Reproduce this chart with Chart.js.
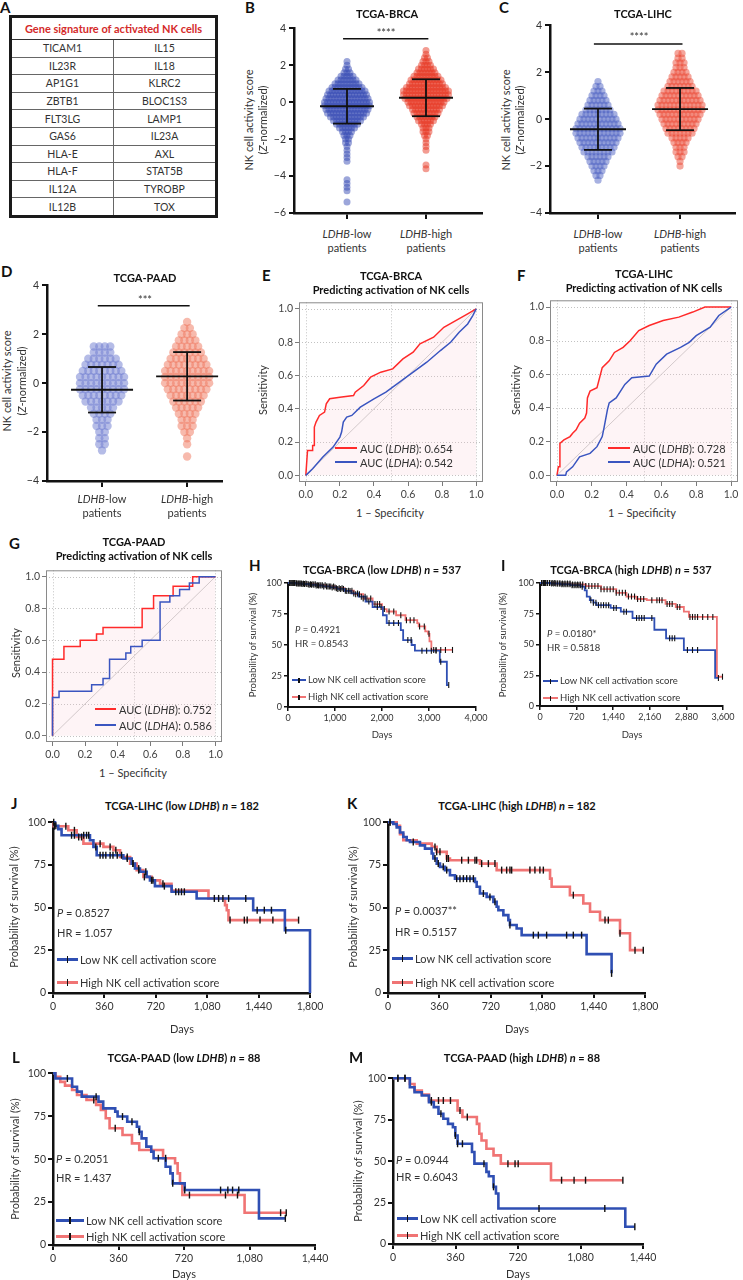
<!DOCTYPE html>
<html>
<head>
<meta charset="utf-8">
<title>NK cell activation and LDHB</title>
<script src="https://cdn.jsdelivr.net/npm/chart.js@4.4.1/dist/chart.umd.min.js"></script>
<style>
  html, body { margin: 0; padding: 0; background: #fff; }
  #fig { position: relative; width: 743px; height: 1280px; overflow: hidden; font-family: Lato, "Noto Sans", sans-serif; color: #333; }
  #fig canvas { position: absolute; }
  .t { position: absolute; white-space: nowrap; line-height: 1; }
  .lg { position: absolute; height: 0; }
  .lg span { position: absolute; width: 1.5px; background: #111; }
  #genes { position: absolute; left: 9px; top: 15px; width: 209px; border-collapse: collapse; border: 3px solid #1a1a1a; font-size: 10.5px; color: #333; }
  #genes th { color: #d42a2a; font-weight: bold; font-size: 11px; height: 21px; padding: 0; border-bottom: 1.5px solid #333; }
  #genes td { border: 1px solid #666; text-align: center; padding: 0; height: 16.6px; width: 50%; }
</style>
</head>
<body>
<div id="fig"></div>
<script>
const FONT = 'Lato, "Noto Sans", sans-serif';
Chart.defaults.font.family = FONT;

// ---------- A: gene signature ----------
const genesLeft = ['TICAM1', 'IL23R', 'AP1G1', 'ZBTB1', 'FLT3LG', 'GAS6', 'HLA-E', 'HLA-F', 'IL12A', 'IL12B'];
const genesRight = ['IL15', 'IL18', 'KLRC2', 'BLOC1S3', 'LAMP1', 'IL23A', 'AXL', 'STAT5B', 'TYROBP', 'TOX'];

// ---------- B-D: NK cell activity score (bin centre -> number of patients) ----------
const bBins = [2.8, 2.6, 2.4, 2.2, 2.0, 1.8, 1.6, 1.4, 1.2, 1.0, 0.8, 0.6, 0.4, 0.2, 0, -0.2, -0.4, -0.6, -0.8, -1.0, -1.2, -1.4, -1.6, -1.8, -2.0, -2.2, -2.4, -2.6, -2.8, -3.0, -3.2, -3.4, -3.6, -3.8, -4.0, -4.2, -4.4, -4.6, -4.8, -5.0, -5.2, -5.4];
const bLow = [0, 0, 0, 1, 1, 2, 3, 5, 7, 9, 11, 13, 14, 15, 16, 16, 15, 14, 12, 10, 8, 6, 4, 3, 2, 2, 1, 1, 1, 1, 1, 0, 0, 0, 0, 1, 1, 1, 1, 0, 0, 1];
const bHigh = [1, 1, 2, 3, 4, 6, 7, 9, 11, 12, 14, 16, 16, 15, 13, 12, 10, 9, 7, 6, 4, 3, 3, 2, 1, 1, 1, 1, 0, 0, 0, 1, 1, 0, 0, 0, 0, 0, 0, 0, 0, 0];
const bMeans = [-0.22, 0.24], bSDs = [0.94, 1.0];

const cBins = [2.8, 2.6, 2.4, 2.2, 2.0, 1.8, 1.6, 1.4, 1.2, 1.0, 0.8, 0.6, 0.4, 0.2, 0, -0.2, -0.4, -0.6, -0.8, -1.0, -1.2, -1.4, -1.6, -1.8, -2.0, -2.2, -2.4, -2.6];
const cLow = [0, 0, 0, 0, 0, 0, 1, 2, 3, 4, 5, 6, 7, 9, 10, 11, 12, 12, 11, 10, 9, 8, 6, 5, 4, 3, 2, 1];
const cHigh = [2, 2, 3, 3, 4, 5, 6, 7, 9, 10, 11, 12, 12, 11, 10, 9, 8, 7, 5, 4, 3, 3, 2, 1, 1, 0, 0, 0];
const cMeans = [-0.43, 0.43], cSDs = [0.88, 0.9];

const dBins = [2.5, 2.25, 2.0, 1.75, 1.5, 1.25, 1.0, 0.75, 0.5, 0.25, 0, -0.25, -0.5, -0.75, -1.0, -1.25, -1.5, -1.75, -2.0, -2.25, -2.5, -2.75, -3.0];
const dLow = [0, 0, 0, 0, 4, 4, 6, 7, 8, 9, 9, 9, 8, 7, 5, 4, 3, 3, 2, 2, 2, 1, 0];
const dHigh = [1, 2, 3, 4, 5, 6, 7, 8, 9, 9, 9, 8, 7, 6, 5, 4, 3, 3, 2, 1, 1, 0, 1];
const dMeans = [-0.27, 0.28], dSDs = [0.93, 0.99];

const scoreTicks6 = [-6, -4, -2, 0, 2, 4];
const scoreTicks4 = [-4, -2, 0, 2, 4];

// ---------- E-G: ROC curves (1 - specificity, sensitivity) ----------
const rocTicks = [0, 0.2, 0.4, 0.6, 0.8, 1.0];
const rocGridX = [0, 0.5, 1];
const diagX = [0, 1], diagY = [0, 1];

const eRedX = [0, 0.004, 0.01, 0.04, 0.04, 0.05, 0.05, 0.06, 0.08, 0.11, 0.12, 0.14, 0.20, 0.28, 0.29, 0.34, 0.38, 0.44, 0.51, 0.57, 0.63, 0.67, 0.75, 0.81, 0.88, 0.95, 1];
const eRedY = [0, 0.06, 0.15, 0.15, 0.18, 0.18, 0.29, 0.32, 0.36, 0.38, 0.43, 0.46, 0.47, 0.48, 0.50, 0.54, 0.59, 0.62, 0.64, 0.70, 0.74, 0.79, 0.83, 0.89, 0.93, 0.97, 1];
const eBlueX = [0, 0.04, 0.10, 0.16, 0.18, 0.20, 0.21, 0.22, 0.24, 0.27, 0.32, 0.40, 0.47, 0.55, 0.63, 0.71, 0.79, 0.85, 0.90, 0.95, 0.98, 1];
const eBlueY = [0, 0.04, 0.11, 0.17, 0.20, 0.23, 0.26, 0.32, 0.35, 0.36, 0.41, 0.46, 0.50, 0.56, 0.62, 0.68, 0.75, 0.80, 0.86, 0.91, 0.96, 1];

const fRedX = [0, 0.008, 0.017, 0.017, 0.04, 0.075, 0.09, 0.11, 0.13, 0.16, 0.17, 0.175, 0.19, 0.23, 0.26, 0.30, 0.33, 0.38, 0.42, 0.47, 0.53, 0.61, 0.70, 0.78, 0.85, 1];
const fRedY = [0, 0.05, 0.05, 0.19, 0.21, 0.23, 0.25, 0.27, 0.31, 0.34, 0.37, 0.46, 0.50, 0.52, 0.64, 0.68, 0.73, 0.76, 0.80, 0.86, 0.89, 0.92, 0.94, 0.97, 1.0, 1];
const fBlueX = [0, 0.05, 0.055, 0.09, 0.11, 0.13, 0.19, 0.23, 0.26, 0.27, 0.29, 0.30, 0.34, 0.39, 0.43, 0.53, 0.57, 0.63, 0.71, 0.76, 0.80, 0.88, 0.93, 1];
const fBlueY = [0, 0, 0.02, 0.05, 0.08, 0.11, 0.13, 0.17, 0.23, 0.28, 0.39, 0.43, 0.46, 0.54, 0.58, 0.59, 0.66, 0.72, 0.76, 0.79, 0.83, 0.88, 0.95, 1];

const gRedX = [0, 0, 0.07, 0.07, 0.17, 0.17, 0.27, 0.27, 0.31, 0.31, 0.55, 0.55, 0.62, 0.62, 0.74, 0.74, 0.86, 0.86, 1];
const gRedY = [0, 0.48, 0.48, 0.56, 0.56, 0.60, 0.60, 0.64, 0.64, 0.68, 0.68, 0.80, 0.80, 0.88, 0.88, 0.94, 0.94, 1.0, 1];
const gBlueX = [0, 0, 0.04, 0.04, 0.24, 0.24, 0.31, 0.31, 0.35, 0.35, 0.45, 0.45, 0.48, 0.48, 0.55, 0.55, 0.66, 0.66, 0.72, 0.72, 0.78, 0.78, 0.84, 0.84, 0.90, 0.90, 1];
const gBlueY = [0, 0.24, 0.24, 0.28, 0.28, 0.32, 0.32, 0.36, 0.36, 0.48, 0.48, 0.52, 0.52, 0.56, 0.56, 0.60, 0.60, 0.84, 0.84, 0.88, 0.88, 0.92, 0.92, 0.96, 0.96, 1.0, 1];

// ---------- H-M: Kaplan-Meier (days, survival %) and censor times ----------
const survTicks = [0, 25, 50, 75, 100];

const hLowT = [0, 150, 300, 450, 600, 750, 900, 1050, 1200, 1350, 1500, 1650, 1800, 2020, 2100, 2400, 2450, 2630, 2700, 3230, 3380, 3420];
const hLowS = [100, 99.6, 99.2, 98.6, 98, 97.2, 96.4, 95.2, 93.6, 91.6, 89, 85, 80.6, 74, 67.7, 62, 54, 50, 45.4, 36.5, 17.7, 17.7];
const hHighT = [0, 200, 400, 600, 800, 1000, 1200, 1400, 1600, 1800, 2000, 2100, 2300, 2500, 2750, 2780, 2920, 2980, 3010, 3050, 3500];
const hHighS = [100, 99.5, 99, 98.2, 97.2, 95.8, 93.8, 91, 87.5, 83, 79, 77, 74, 70, 67.7, 65, 61, 59, 53, 46, 46];
const hLowC = [30, 60, 100, 140, 180, 220, 260, 300, 350, 400, 450, 500, 550, 600, 650, 700, 760, 820, 880, 940, 1000, 1060, 1120, 1180, 1250, 1320, 1400, 1480, 1560, 1640, 1720, 1900, 1980, 2150, 2250, 2350, 2550, 2620, 2850, 2950, 3050, 3150, 3250, 3420];
const hHighC = [40, 80, 120, 170, 210, 250, 290, 330, 380, 430, 480, 530, 580, 630, 680, 730, 790, 850, 910, 970, 1030, 1090, 1150, 1220, 1290, 1360, 1440, 1520, 1600, 1680, 1760, 1850, 1900, 1950, 2050, 2150, 2250, 2400, 2520, 2600, 2680, 2800, 2900, 3000, 3100, 3150, 3250, 3350, 3500];
const hTicks = [0, 1000, 2000, 3000, 4000];

const iLowT = [0, 200, 400, 600, 800, 880, 920, 980, 1050, 1110, 1390, 1590, 1820, 2250, 2480, 2830, 3445, 3510];
const iLowS = [100, 99.6, 99, 98.2, 97, 94, 89, 86, 84, 82, 79.7, 76.7, 71.5, 62, 55, 45.5, 22.8, 22.8];
const iHighT = [0, 300, 600, 900, 1200, 1500, 1700, 1900, 2100, 2470, 2670, 2830, 2930, 3480, 3590];
const iHighS = [100, 99.5, 98.8, 97.5, 95, 92, 89, 87, 86, 83, 80.5, 76.7, 72.4, 23.8, 23.8];
const iLowC = [30, 70, 110, 150, 190, 230, 270, 310, 350, 390, 430, 470, 510, 550, 590, 630, 670, 710, 750, 790, 830, 1000, 1050, 1100, 1150, 1200, 1250, 1300, 1350, 1450, 1500, 1650, 1700, 1900, 1950, 2000, 2050, 2200, 2550, 2600, 2650, 2900, 3000, 3100, 3510];
const iHighC = [40, 90, 140, 190, 240, 290, 340, 390, 440, 490, 540, 590, 640, 690, 740, 790, 840, 900, 960, 1020, 1080, 1140, 1200, 1260, 1320, 1380, 1440, 1500, 1560, 1620, 1680, 1740, 1800, 1860, 1920, 1980, 2040, 2200, 2300, 2350, 2400, 2500, 2550, 2600, 2700, 2750, 2950, 3000, 3050, 3100, 3200, 3300, 3400, 3590];
const iTicks = [0, 720, 1440, 2160, 2880, 3600];

const jLowT = [0, 14, 37, 60, 259, 283, 306, 493, 551, 574, 609, 656, 679, 714, 831, 1006, 1402, 1624, 1800];
const jLowS = [100, 98, 96, 92.4, 89.5, 85.6, 80.7, 78.8, 75.8, 72.9, 71, 68, 66, 62.6, 59.3, 55.4, 48.5, 36.8, 0];
const jHighT = [0, 5, 107, 166, 213, 353, 423, 470, 540, 586, 633, 691, 750, 830, 1089, 1205, 1217, 1229, 1720];
const jHighS = [100, 97.7, 95.3, 91.4, 87.5, 85.6, 83.6, 79.7, 75.8, 72, 68, 66, 64, 60, 55.4, 51.5, 48.5, 42.7, 42.7];
const jLowC = [5, 20, 130, 150, 215, 235, 250, 300, 330, 350, 370, 400, 420, 450, 480, 520, 560, 600, 650, 690, 780, 860, 880, 900, 920, 1130, 1160, 1230, 1350, 1430, 1480, 1530, 1630];
const jHighC = [10, 90, 150, 180, 200, 330, 400, 440, 520, 560, 600, 640, 700, 770, 1190, 1240, 1340, 1360, 1450, 1540, 1720];

const kLowT = [0, 37, 61, 84, 107, 131, 154, 224, 259, 306, 317, 341, 364, 399, 434, 469, 609, 621, 644, 691, 738, 761, 773, 808, 843, 854, 901, 936, 1391, 1566];
const kLowS = [100, 99, 97, 94, 91.4, 89.5, 88.5, 86.5, 84.6, 81.7, 78.8, 75.8, 73.9, 72, 69, 67, 65, 62.2, 58.3, 56.3, 53.4, 50.5, 48.5, 45.6, 42.7, 39.8, 37.8, 33.9, 22.8, 11.5];
const kHighT = [0, 61, 84, 107, 201, 306, 341, 411, 434, 644, 761, 1135, 1146, 1274, 1368, 1415, 1485, 1625, 1695, 1788];
const kHighS = [100, 98, 93, 89.5, 87.5, 85.6, 82.7, 78.8, 77.8, 75.8, 72, 67, 62.2, 57.3, 52.4, 47.6, 42.7, 35, 25.1, 25.1];
const kLowC = [14, 177, 329, 352, 387, 411, 481, 504, 528, 551, 574, 598, 668, 714, 749, 854, 1018, 1053, 1111, 1251, 1298, 1356, 1566];
const kHighC = [14, 329, 341, 364, 411, 423, 516, 563, 609, 621, 656, 703, 749, 796, 831, 854, 866, 994, 1029, 1064, 1088, 1298, 1520, 1543, 1625, 1730, 1788];
const lihcTicks = [0, 360, 720, 1080, 1440, 1800];

const lLowT = [0, 13, 105, 132, 158, 250, 276, 342, 355, 408, 461, 474, 487, 513, 540, 553, 619, 645, 658, 724, 1132, 1277];
const lLowS = [100, 97, 92.2, 89.3, 86.4, 83.5, 79.6, 77.7, 74.8, 71.8, 68.9, 66, 62.1, 57.3, 54.4, 50.5, 45.6, 41.7, 35.9, 32, 15.5, 15.5];
const lHighT = [0, 13, 40, 66, 105, 132, 184, 237, 263, 290, 311, 382, 434, 474, 605, 671, 685, 698, 711, 1053, 1282];
const lHighS = [100, 98, 95, 92.8, 90.3, 87.4, 84.5, 81.6, 78.6, 73.8, 68, 64.1, 59.2, 55.3, 50.5, 47.6, 41.7, 35.9, 29.1, 18.8, 18.8];
const lLowC = [79, 237, 382, 434, 474, 579, 658, 724, 921, 961, 987, 1021, 1277];
const lHighC = [224, 342, 619, 750, 948, 1014, 1251, 1282];

const mLowT = [0, 97, 124, 166, 207, 235, 262, 290, 317, 345, 359, 372, 455, 469, 538, 552, 579, 593, 607, 1338, 1393];
const mLowS = [100, 94.6, 91.6, 89.6, 85.6, 82.6, 78.6, 75.6, 72.5, 70.5, 65.5, 60.5, 55.5, 48.5, 43.5, 40.9, 34.5, 30.5, 21.4, 10.4, 10.4];
const mHighT = [0, 97, 124, 166, 207, 372, 400, 483, 497, 510, 538, 579, 621, 910, 1324];
const mHighS = [100, 96.6, 92.6, 90.2, 86.6, 80.6, 76.6, 72.5, 66.5, 62.5, 57.5, 53.5, 48.5, 38.5, 38.5];
const mLowC = [28, 69, 221, 276, 359, 372, 400, 524, 579, 841, 1220, 1393];
const mHighC = [28, 69, 221, 262, 290, 331, 386, 428, 662, 703, 721, 971, 1043, 1109, 1324];
const paadTicks = [0, 360, 720, 1080, 1440];

// ---------- helpers ----------
const fig = document.getElementById('fig');
const KM_BLUE = '#2f4fb3', KM_RED = '#f07474';
const ROC_RED = '#ff2a2a', ROC_BLUE = '#3a55c0';

function makeCanvas(rect, m) {
    const c = document.createElement('canvas');
    const w = rect.r - rect.l + m.l + m.r, h = rect.b - rect.t + m.t + m.b;
    c.width = w; c.height = h;
    c.style.left = (rect.l - m.l) + 'px';
    c.style.top = (rect.t - m.t) + 'px';
    c.style.width = w + 'px'; c.style.height = h + 'px';
    fig.appendChild(c);
    return c;
}

function txt(html, x, y, o = {}) {
    const d = document.createElement('div');
    d.className = 't';
    d.innerHTML = html;
    d.style.left = x + 'px'; d.style.top = y + 'px';
    d.style.fontSize = (o.s || 11) + 'px';
    if (o.b) d.style.fontWeight = 'bold';
    if (o.c) d.style.color = o.c;
    const tx = o.a === 'l' ? '0' : o.a === 'r' ? '-100%' : '-50%';
    d.style.transform = `translate(${tx},-50%)` + (o.rot ? ' rotate(-90deg)' : '');
    fig.appendChild(d);
}

function legendLine(x1, x2, y, col, th, tick) {
    const d = document.createElement('div');
    d.className = 'lg';
    d.style.left = x1 + 'px'; d.style.top = (y - th / 2) + 'px';
    d.style.width = (x2 - x1) + 'px';
    d.style.borderTop = th + 'px solid ' + col;
    if (tick) {
        const s = document.createElement('span');
        s.style.left = ((x2 - x1) / 2 - 0.75) + 'px';
        s.style.top = (-tick / 2 - th / 2) + 'px';
        s.style.height = tick + 'px';
        d.appendChild(s);
    }
    fig.appendChild(d);
}

function survAt(T, S, t) {
    let v = S[0];
    for (let i = 0; i < T.length; i++) if (T[i] <= t) v = S[i];
    return v;
}

const minus = v => (v < 0 ? '\u2212' + Math.abs(v) : String(v));

function axis(o) {
    return {
        type: 'linear', min: o.min, max: o.max,
        afterBuildTicks: s => { s.ticks = o.ticks.map(v => ({ value: v })); },
        afterFit: s => { if (s.isHorizontal()) s.height = o.size; else s.width = o.size; },
        ticks: { display: o.labels !== false, callback: o.fmt, font: { family: FONT, size: o.fs || 10 }, color: o.tc || '#333', padding: o.pad == null ? 2 : o.pad, maxRotation: 0, autoSkip: false },
        grid: { display: true, drawOnChartArea: false, drawTicks: true, tickLength: o.tl, tickColor: o.col, tickWidth: o.tw, color: o.col, lineWidth: o.tw },
        border: { display: o.bw > 0, color: o.col, width: o.bw || 0 }
    };
}

function baseOpts(m, scales) {
    return {
        responsive: false, animation: false, events: [], devicePixelRatio: 1,
        layout: { padding: { top: m.t, right: m.r, left: 0, bottom: 0 } },
        plugins: { legend: { display: false }, tooltip: { enabled: false } },
        scales
    };
}

// mean +/- SD bars and the significance bar of the dot plots
const statsPlugin = {
    id: 'stats',
    afterDatasetsDraw(chart, args, o) {
        const { ctx, scales: { x, y } } = chart;
        const seg = (x1, y1, x2, y2) => { ctx.beginPath(); ctx.moveTo(x1, y1); ctx.lineTo(x2, y2); ctx.stroke(); };
        ctx.save();
        ctx.strokeStyle = '#111'; ctx.lineWidth = 1.8;
        o.means.forEach((mu, i) => {
            const cx = x.getPixelForValue(i + 1);
            const ym = y.getPixelForValue(mu), yt = y.getPixelForValue(mu + o.sds[i]), yb = y.getPixelForValue(mu - o.sds[i]);
            seg(cx - o.mw, ym, cx + o.mw, ym);
            seg(cx, yt, cx, yb);
            seg(cx - o.cw, yt, cx + o.cw, yt);
            seg(cx - o.cw, yb, cx + o.cw, yb);
        });
        ctx.lineWidth = 1.5;
        const sy = y.getPixelForValue(o.sig);
        seg(x.getPixelForValue(0.95), sy, x.getPixelForValue(2.03), sy);
        ctx.restore();
    }
};

function swarmChart(p) {
    const m = { l: 30, r: 10, t: 8, b: 12 };
    const c = makeCanvas(p.rect, m);
    const pxPerUnit = (p.rect.r - p.rect.l) / (p.xMax - p.xMin);
    const swarm = (counts, g) => {
        const pts = [];
        p.bins.forEach((v, i) => {
            const n = counts[i];
            for (let k = 0; k < n; k++) pts.push({ x: g + (k - (n - 1) / 2) * p.gap / pxPerUnit, y: v });
        });
        return pts;
    };
    const opts = baseOpts(m, {
        x: axis({ min: p.xMin, max: p.xMax, ticks: [1, 2], labels: false, size: m.b, tl: 6, col: '#111', tw: 2, bw: 2.5 }),
        y: axis({ min: p.yMin, max: p.yMax, ticks: p.yTicks, fmt: minus, size: m.l, tl: 5, col: '#111', tw: 2, bw: 2.5, fs: 10.5, pad: 3 })
    });
    opts.plugins.stats = { means: p.means, sds: p.sds, sig: p.sig, mw: p.mw, cw: p.cw };
    new Chart(c, {
        type: 'scatter',
        data: {
            datasets: [
                { data: swarm(p.low, 1), backgroundColor: p.lowCol, pointRadius: p.r, pointBorderWidth: 0, clip: false },
                { data: swarm(p.high, 2), backgroundColor: p.highCol, pointRadius: p.r, pointBorderWidth: 0, clip: false }
            ]
        },
        options: opts,
        plugins: [statsPlugin]
    });
}

// frame and dotted grid of the ROC plots
const rocPlugin = {
    id: 'roc',
    beforeDatasetsDraw(chart, args, o) {
        const { ctx, chartArea: a, scales: { x, y } } = chart;
        ctx.save();
        ctx.strokeStyle = '#c2c2c2'; ctx.lineWidth = 1; ctx.setLineDash([1, 2]);
        o.gx.forEach(v => { const px = Math.round(x.getPixelForValue(v)) + 0.5; ctx.beginPath(); ctx.moveTo(px, a.top); ctx.lineTo(px, a.bottom); ctx.stroke(); });
        o.gy.forEach(v => { const py = Math.round(y.getPixelForValue(v)) + 0.5; ctx.beginPath(); ctx.moveTo(a.left, py); ctx.lineTo(a.right, py); ctx.stroke(); });
        ctx.restore();
    },
    afterDatasetsDraw(chart) {
        const { ctx, chartArea: a } = chart;
        ctx.save();
        ctx.strokeStyle = '#8a8a8a'; ctx.lineWidth = 1;
        ctx.strokeRect(a.left + 0.5, a.top + 0.5, a.right - a.left - 1, a.bottom - a.top - 1);
        ctx.restore();
    }
};

function rocChart(p) {
    const m = { l: 34, r: 14, t: 4, b: 22 };
    const c = makeCanvas(p.rect, m);
    const pts = (X, Y) => X.map((x, i) => ({ x, y: Y[i] }));
    const fmt = v => v.toFixed(1);
    const opts = baseOpts(m, {
        x: axis({ min: -0.04, max: 1.04, ticks: rocTicks, fmt, size: m.b, tl: 4, col: '#7a7a7a', tw: 1, bw: 0, fs: 10.5, tc: '#444' }),
        y: axis({ min: -0.04, max: 1.04, ticks: rocTicks, fmt, size: m.l, tl: 4, col: '#7a7a7a', tw: 1, bw: 0, fs: 10.5, tc: '#444' })
    });
    opts.plugins.roc = { gx: rocGridX, gy: rocTicks };
    new Chart(c, {
        type: 'scatter',
        data: {
            datasets: [
                { type: 'line', data: pts(diagX, diagY), borderColor: '#c9c9c9', borderWidth: 1, pointRadius: 0, order: 3 },
                { type: 'line', data: pts(p.redX, p.redY), borderColor: ROC_RED, borderWidth: 1.5, pointRadius: 0, fill: { target: 'origin' }, backgroundColor: 'rgba(248,200,212,0.2)', order: 2 },
                { type: 'line', data: pts(p.blueX, p.blueY), borderColor: ROC_BLUE, borderWidth: 1.5, pointRadius: 0, order: 1 }
            ]
        },
        options: opts,
        plugins: [rocPlugin]
    });
}

function kmChart(p) {
    const m = { l: 40, r: 26, t: 8, b: 26 };
    const c = makeCanvas(p.rect, m);
    // 'before' in Chart.js = hold the previous value, then drop at the new time
    const curve = (T, S, col, ord) => ({ type: 'line', data: T.map((t, i) => ({ x: t, y: S[i] })), borderColor: col, borderWidth: p.lw, pointRadius: 0, stepped: 'before', clip: false, order: ord });
    const cens = (T, S, C) => ({ type: 'scatter', data: C.map(t => ({ x: t, y: survAt(T, S, t) })), pointStyle: 'line', pointRotation: 90, pointRadius: p.cr, pointBorderColor: '#111', pointBorderWidth: p.cw, clip: false, order: 0 });
    const opts = baseOpts(m, {
        x: axis({ min: 0, max: p.xMax, ticks: p.xTicks, fmt: v => v.toLocaleString('en-US'), size: m.b, tl: p.tl, col: '#111', tw: p.aw - 0.5, bw: p.aw, fs: p.fs, pad: 2 }),
        y: axis({ min: 0, max: 100, ticks: survTicks, fmt: v => String(v), size: m.l, tl: p.tl, col: '#111', tw: p.aw - 0.5, bw: p.aw, fs: p.fs, pad: 2 })
    });
    new Chart(c, {
        type: 'scatter',
        data: {
            datasets: [
                curve(p.highT, p.highS, KM_RED, 3),
                curve(p.lowT, p.lowS, KM_BLUE, 2),
                cens(p.highT, p.highS, p.highC),
                cens(p.lowT, p.lowS, p.lowC)
            ]
        },
        options: opts
    });
}

function kmText(p) {
    txt(p.title, p.tx, p.ty, { s: p.ts, b: true, c: '#111' });
    txt('Probability of survival (%)', p.yx, p.yy, { s: p.fs2, rot: true });
    txt('Days', p.dx, p.dy, { s: p.fs2 });
    txt(p.pText, p.px, p.py, { s: p.fs2, a: 'l' });
    txt(p.hr, p.px, p.hy, { s: p.fs2, a: 'l' });
    legendLine(p.lx1, p.lx2, p.l1y, KM_BLUE, p.lth, p.ltk);
    txt('Low NK cell activation score', p.lx2 + 2, p.l1y, { s: p.fs2, a: 'l' });
    legendLine(p.lx1, p.lx2, p.l2y, KM_RED, p.lth, p.ltk);
    txt('High NK cell activation score', p.lx2 + 2, p.l2y, { s: p.fs2, a: 'l' });
}

// ---------- A ----------
(function buildTable() {
    const t = document.createElement('table');
    t.id = 'genes';
    let html = '<tr><th colspan="2">Gene signature of activated NK cells</th></tr>';
    genesLeft.forEach((g, i) => { html += `<tr><td>${g}</td><td>${genesRight[i]}</td></tr>`; });
    t.innerHTML = html;
    fig.appendChild(t);
})();

// ---------- B, C, D ----------
swarmChart({ rect: { l: 294, r: 482, t: 27, b: 213 }, xMin: 0.329, xMax: 2.709, yMin: -6, yMax: 4, yTicks: scoreTicks6,
    bins: bBins, low: bLow, high: bHigh, means: bMeans, sds: bSDs, sig: 3.44, gap: 3, r: 3.5, mw: 27, cw: 14,
    lowCol: 'rgba(58,78,182,0.5)', highCol: 'rgba(232,58,38,0.5)' });
swarmChart({ rect: { l: 550, r: 735, t: 24, b: 213 }, xMin: 0.415, xMax: 2.67, yMin: -4, yMax: 4, yTicks: scoreTicks4,
    bins: cBins, low: cLow, high: cHigh, means: cMeans, sds: cSDs, sig: 3.2, gap: 4, r: 3.6, mw: 28, cw: 14,
    lowCol: 'rgba(80,100,196,0.5)', highCol: 'rgba(236,76,56,0.5)' });
swarmChart({ rect: { l: 47, r: 222, t: 284, b: 481 }, xMin: 0.353, xMax: 2.41, yMin: -4, yMax: 4, yTicks: scoreTicks4,
    bins: dBins, low: dLow, high: dHigh, means: dMeans, sds: dSDs, sig: 3.16, gap: 5.5, r: 4.2, mw: 31, cw: 14,
    lowCol: 'rgba(108,122,208,0.5)', highCol: 'rgba(240,118,92,0.5)' });

// ---------- E, F, G ----------
rocChart({ rect: { l: 299, r: 483, t: 298, b: 482 }, redX: eRedX, redY: eRedY, blueX: eBlueX, blueY: eBlueY });
rocChart({ rect: { l: 550, r: 738, t: 296, b: 482 }, redX: fRedX, redY: fRedY, blueX: fBlueX, blueY: fBlueY });
rocChart({ rect: { l: 46, r: 222, t: 566, b: 742 }, redX: gRedX, redY: gRedY, blueX: gBlueX, blueY: gBlueY });

// ---------- H - M ----------
const smallKM = { fs: 9, lw: 1.8, cr: 3, cw: 1.1, aw: 2, tl: 4 };
const bigKM = { fs: 10.5, lw: 2.6, cr: 3.5, cw: 1.4, aw: 2.5, tl: 5 };
kmChart(Object.assign({ rect: { l: 288, r: 476, t: 583, b: 707 }, xMax: 4000, xTicks: hTicks, lowT: hLowT, lowS: hLowS, highT: hHighT, highS: hHighS, lowC: hLowC, highC: hHighC }, smallKM));
kmChart(Object.assign({ rect: { l: 540, r: 723, t: 583, b: 706 }, xMax: 3600, xTicks: iTicks, lowT: iLowT, lowS: iLowS, highT: iHighT, highS: iHighS, lowC: iLowC, highC: iHighC }, smallKM));
kmChart(Object.assign({ rect: { l: 53, r: 310, t: 822, b: 993 }, xMax: 1800, xTicks: lihcTicks, lowT: jLowT, lowS: jLowS, highT: jHighT, highS: jHighS, lowC: jLowC, highC: jHighC }, bigKM));
kmChart(Object.assign({ rect: { l: 388, r: 645, t: 822, b: 993 }, xMax: 1800, xTicks: lihcTicks, lowT: kLowT, lowS: kLowS, highT: kHighT, highS: kHighS, lowC: kLowC, highC: kHighC }, bigKM));
kmChart(Object.assign({ rect: { l: 53, r: 315, t: 1073, b: 1245 }, xMax: 1440, xTicks: paadTicks, lowT: lLowT, lowS: lLowS, highT: lHighT, highS: lHighS, lowC: lLowC, highC: lHighC }, bigKM));
kmChart(Object.assign({ rect: { l: 393, r: 643, t: 1078, b: 1244 }, xMax: 1440, xTicks: paadTicks, lowT: mLowT, lowS: mLowS, highT: mHighT, highS: mHighS, lowC: mLowC, highC: mHighC }, bigKM));

// ---------- text ----------
const L = { s: 15, b: true, c: '#111', a: 'l' };
txt('A', 0, 7, L); txt('B', 245, 7, L); txt('C', 499, 7, L); txt('D', 1, 271, L);
txt('E', 262, 275, L); txt('F', 517, 275, L); txt('G', 9, 543, L); txt('H', 249, 565, L);
txt('I', 501, 565, L); txt('J', 11, 803, L); txt('K', 347, 803, L); txt('L', 12, 1057, L); txt('M', 349, 1057, L);

// dot plots
txt('TCGA-BRCA', 387, 13, { s: 11, b: true, c: '#111' });
txt('TCGA-LIHC', 643, 13, { s: 11, b: true, c: '#111' });
txt('TCGA-PAAD', 145, 277, { s: 11, b: true, c: '#111' });
txt('****', 386, 32, { s: 11 });
txt('****', 639, 36, { s: 11 });
txt('***', 145, 299, { s: 11 });
[[248, 262, 120], [505, 519, 120], [6, 21, 381]].forEach(([x1, x2, y]) => {
    txt('NK cell activity score', x1, y, { s: 11, rot: true });
    txt('(<i>Z</i>-normalized)', x2, y, { s: 11, rot: true });
});
[[347, 426, 233], [598, 680, 233], [102, 187, 498]].forEach(([xl, xh, y]) => {
    txt('<i>LDHB</i>-low', xl, y, { s: 11 }); txt('patients', xl, y + 14, { s: 11 });
    txt('<i>LDHB</i>-high', xh, y, { s: 11 }); txt('patients', xh, y + 14, { s: 11 });
});

// ROC
[[391, 275, 'TCGA-BRCA'], [644, 273, 'TCGA-LIHC'], [134, 541, 'TCGA-PAAD']].forEach(([x, y, name]) => {
    txt(name, x, y, { s: 11, b: true, c: '#111' });
    txt('Predicting activation of NK cells', x, y + 14, { s: 11, b: true, c: '#111' });
});
[[262, 390, 390, 512], [515, 390, 642, 512], [15, 653, 133, 772]].forEach(([sx, sy, px, py]) => {
    txt('Sensitivity', sx, sy, { s: 11, rot: true });
    txt('1 \u2013 Specificity', px, py, { s: 11 });
});
[[335, 357, 448, '0.654', '0.542'], [608, 630, 448, '0.728', '0.521'], [95, 116, 709, '0.752', '0.586']].forEach(([x1, x2, y, a1, a2]) => {
    const dy = y === 709 ? 16 : 14;
    legendLine(x1, x2, y, ROC_RED, 2);
    txt(`AUC (<i>LDHB</i>): ${a1}`, x2 + 3, y, { s: 11, a: 'l' });
    legendLine(x1, x2, y + dy, ROC_BLUE, 2);
    txt(`AUC (<i>LDHA</i>): ${a2}`, x2 + 3, y + dy, { s: 11, a: 'l' });
});

// KM
kmText({ title: 'TCGA-BRCA (low <i>LDHB</i>) <i>n</i> = 537', tx: 382, ty: 569, ts: 11, yx: 253, yy: 645, dx: 382, dy: 735, fs2: 9.5,
    pText: '<i>P</i> = 0.4921', hr: 'HR = 0.8543', px: 295, py: 630, hy: 644, lx1: 292, lx2: 306, l1y: 680, l2y: 697, lth: 2, ltk: 5 });
kmText({ title: 'TCGA-BRCA (high <i>LDHB</i>) <i>n</i> = 537', tx: 631, ty: 569, ts: 11, yx: 503, yy: 645, dx: 632, dy: 735, fs2: 9.5,
    pText: '<i>P</i> = 0.0180*', hr: 'HR = 0.5818', px: 547, py: 634, hy: 648, lx1: 543, lx2: 558, l1y: 681, l2y: 698, lth: 2, ltk: 5 });
kmText({ title: 'TCGA-LIHC (low <i>LDHB</i>) <i>n</i> = 182', tx: 182, ty: 805, ts: 11, yx: 13, yy: 907, dx: 182, dy: 1028, fs2: 11,
    pText: '<i>P</i> = 0.8527', hr: 'HR = 1.057', px: 57, py: 912, hy: 932, lx1: 57, lx2: 78, l1y: 959, l2y: 982, lth: 3, ltk: 7 });
kmText({ title: 'TCGA-LIHC (high <i>LDHB</i>) <i>n</i> = 182', tx: 517, ty: 805, ts: 11, yx: 352, yy: 907, dx: 517, dy: 1028, fs2: 11,
    pText: '<i>P</i> = 0.0037**', hr: 'HR = 0.5157', px: 395, py: 910, hy: 931, lx1: 392, lx2: 413, l1y: 958, l2y: 982, lth: 3, ltk: 7 });
kmText({ title: 'TCGA-PAAD (low <i>LDHB</i>) <i>n</i> = 88', tx: 184, ty: 1057, ts: 11, yx: 14, yy: 1159, dx: 184, dy: 1273, fs2: 11,
    pText: '<i>P</i> = 0.2051', hr: 'HR = 1.437', px: 56, py: 1158, hy: 1177, lx1: 56, lx2: 84, l1y: 1220, l2y: 1236, lth: 3, ltk: 7 });
kmText({ title: 'TCGA-PAAD (high <i>LDHB</i>) <i>n</i> = 88', tx: 522, ty: 1057, ts: 11, yx: 357, yy: 1161, dx: 518, dy: 1273, fs2: 11,
    pText: '<i>P</i> = 0.0944', hr: 'HR = 0.6043', px: 396, py: 1159, hy: 1176, lx1: 397, lx2: 418, l1y: 1218, l2y: 1235, lth: 3, ltk: 7 });
</script>
</body>
</html>
